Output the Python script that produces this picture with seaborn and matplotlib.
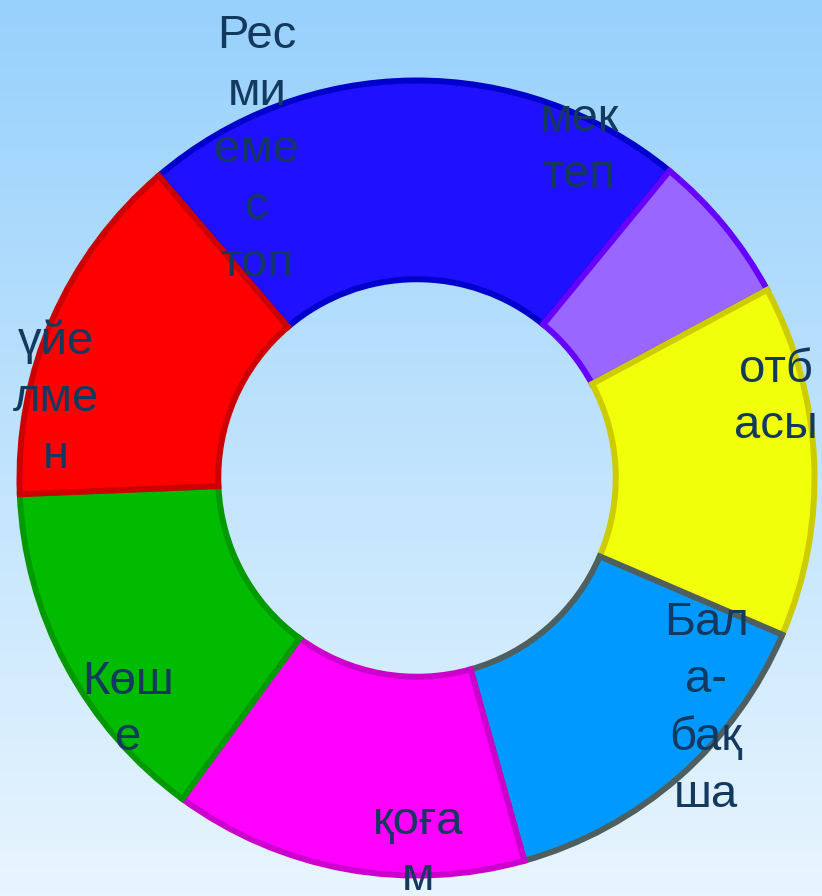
import seaborn as sns
import matplotlib.pyplot as plt
import numpy as np

# data (share of the ring, clockwise from the top-left)
labels = ["Ресми емес топ", "мектеп", "отбасы", "Бала-бақша", "қоғам", "Көше", "үйелмен"]
values = [22.2, 6.2, 14.3, 14.2, 14.4, 14.3, 14.4]
fill_colors = ["#1F10FF", "#9966FF", "#F2FF0A", "#0099FF", "#FF00FF", "#00BB00", "#FF0000"]
edge_colors = ["#0000CC", "#6600FF", "#CCCC00", "#4F5F5F", "#CC00CC", "#009900", "#CC0000"]
# wrapped label text, as it appears in the picture
label_text = ["Рес\nми\nеме\nс\nтоп", "мек\nтеп", "отб\nасы", "Бал\nа-\nбақ\nша",
              "қоға\nм", "Көш\nе", "үйе\nлме\nн"]
# label centres in pixels (x, y from top)
label_px = [(257, 150), (579, 147), (776, 398), (706, 709), (418, 850), (128, 710), (56, 399)]

sns.set_style("white")
plt.rcParams['font.family'] = ['Liberation Sans', 'DejaVu Sans']

W, H = 822, 896
cx, cy, R = 417, 478, 397.5

fig = plt.figure(figsize=(W / 100, H / 100), dpi=100)

# background gradient
bg = fig.add_axes([0, 0, 1, 1])
top = np.array([151, 209, 252]) / 255
bottom = np.array([232, 245, 254]) / 255
t = np.linspace(0, 1, 256)[:, None]
grad = top + (bottom - top) * t
bg.imshow(grad[:, None, :].repeat(2, axis=1), aspect='auto', extent=[0, 1, 0, 1])
bg.axis('off')

ax = fig.add_axes([0, 0, 1, 1])
ax.patch.set_alpha(0)
wedges, _ = ax.pie(values, colors=sns.color_palette(fill_colors), startangle=130.5,
                   counterclock=False, radius=1,
                   wedgeprops=dict(width=0.5, linewidth=4.3))
for w, ec in zip(wedges, edge_colors):
    w.set_edgecolor(ec)
    w.set_joinstyle('miter')

ax.set_xlim(-cx / R, (W - cx) / R)
ax.set_ylim(-(H - cy) / R, cy / R)
ax.set_aspect('auto')
ax.axis('off')

for txt, (px, py) in zip(label_text, label_px):
    ax.text((px - cx) / R, (cy - py) / R, txt, ha='center', va='center',
            fontsize=34, color='#14395F', linespacing=1.38)

fig.savefig("out.png", dpi=100)
